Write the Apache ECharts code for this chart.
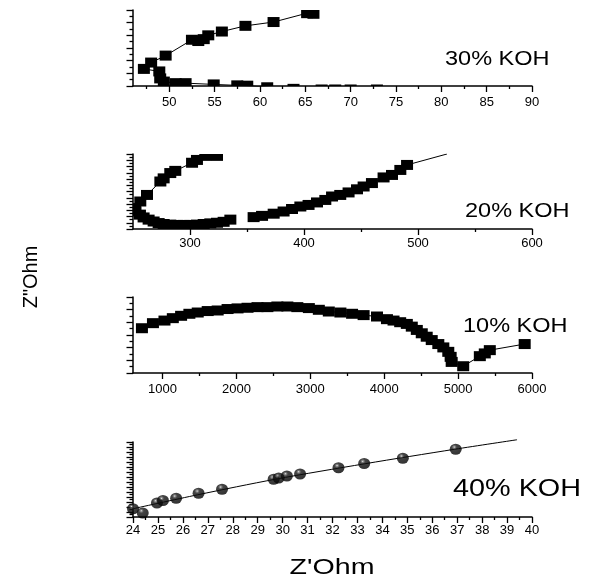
<!DOCTYPE html>
<html><head><meta charset="utf-8">
<script src="https://cdn.jsdelivr.net/npm/echarts@6/dist/echarts.min.js"></script>
<style>html,body{margin:0;padding:0;background:#fff}#c{width:597px;height:586px}</style>
</head><body><div id="c"></div>
<script>
// ---- 30% KOH ----
const koh30X = [72.9, 70.0, 68.3, 66.8, 63.7, 60.8, 58.6, 57.5, 54.9, 51.8, 50.7, 49.4, 49.0, 48.9, 47.2, 48.0, 49.6, 52.5, 53.2, 53.8, 54.3, 55.8, 58.4, 61.5, 65.2, 65.6, 65.9];
const koh30Y = [-0.55, -0.55, -0.55, -0.55, -0.45, -0.2, 0.05, 0.1, 0.25, 0.45, 0.45, 0.7, 1.2, 2.3, 2.7, 3.7, 4.8, 7.3, 7.1, 7.4, 8.0, 8.6, 9.5, 10.1, 11.5, 11.7, 11.4];
const koh30Labels = [50, 55, 60, 65, 70, 75, 80, 85, 90];
const koh30Minor = [47.5, 52.5, 57.5, 62.5, 67.5, 72.5, 77.5, 82.5, 87.5];

// ---- 20% KOH ----
const koh20ArcX = [323.7, 313.4, 306.1, 301.8, 287.1, 282.7, 276.9, 274.0, 262.3, 256.4, 252.0, 252.0, 256.1, 259.3, 263.7, 268.1, 272.5, 276.9, 282.7, 288.6, 294.4, 300.3, 306.1, 312.0, 317.8, 323.7, 329.5, 335.4];
const koh20ArcY = [23.4, 23.4, 22.1, 21.2, 18.6, 17.9, 16.2, 15.2, 10.9, 8.8, 6.7, 5.6, 4.6, 3.7, 3.0, 2.4, 1.9, 1.6, 1.4, 1.3, 1.3, 1.3, 1.4, 1.6, 1.8, 2.0, 2.3, 3.0];
const koh20RightX = [355.8, 363.2, 373.4, 382.1, 389.5, 396.8, 404.0, 411.4, 418.7, 424.6, 431.8, 439.1, 446.5, 452.3, 459.6, 469.8, 477.2, 484.5, 490.4];
const koh20RightY = [3.8, 4.2, 4.9, 5.6, 6.4, 7.2, 7.7, 8.5, 9.3, 10.4, 10.9, 11.7, 12.7, 13.6, 14.7, 16.5, 17.3, 18.9, 20.5];
const koh20FitX = [490.4, 525.4];
const koh20FitY = [20.5, 24.0];
const koh20Labels = [300, 400, 500, 600];
const koh20Minor = [350, 450, 550];

// ---- 10% KOH ----
const koh10X = [721, 870, 1026, 1139, 1251, 1363, 1476, 1611, 1746, 1880, 2015, 2150, 2285, 2419, 2554, 2689, 2824, 2980, 3115, 3250, 3407, 3565, 3721, 3902, 4037, 4126, 4216, 4306, 4373, 4441, 4508, 4575, 4643, 4732, 4800, 4867, 4899, 4913, 5069, 5294, 5361, 5429, 5901];
const koh10Y = [7.07, 7.87, 8.28, 8.66, 9.03, 9.35, 9.55, 9.78, 9.87, 10.1, 10.2, 10.3, 10.4, 10.4, 10.5, 10.5, 10.4, 10.25, 9.98, 9.71, 9.55, 9.35, 9.14, 8.92, 8.5, 8.28, 8.02, 7.75, 7.32, 6.8, 6.27, 5.73, 5.2, 4.57, 4.04, 3.34, 2.55, 1.75, 1.07, 2.66, 3.09, 3.61, 4.57];
const koh10Labels = [1000, 2000, 3000, 4000, 5000, 6000];
const koh10Minor = [1500, 2500, 3500, 4500, 5500];

// ---- 40% KOH ----
const koh40X = [24.0, 24.39, 24.96, 25.2, 25.73, 26.63, 27.57, 29.64, 29.84, 30.17, 30.7, 32.24, 33.27, 34.82, 36.94];
const koh40Y = [3.3, 1.6, 5.6, 6.6, 7.5, 9.5, 11.1, 15.1, 15.6, 16.4, 17.2, 19.7, 21.4, 23.5, 27.1];
const koh40FitX = [24.0, 26.6, 29.7, 33.3, 36.9, 39.4];
const koh40FitY = [3.3, 8.9, 15.1, 21.3, 27.1, 30.9];

const zip = (a, b) => a.map((v, i) => [v, b[i]]);
const FONT = '"Liberation Sans", Arial, sans-serif';
const AX = {color: '#000', width: 1.5};
const TK = {color: '#000', width: 1.3};
const MW = 12, MH = 10;
const plain = v => String(v);

function squareItem(params, api) {
  const p = api.coord([api.value(0), api.value(1)]);
  const cs = params.coordSys;
  const r = echarts.graphic.clipRectByRect(
    {x: p[0] - MW / 2, y: p[1] - MH / 2, width: MW, height: MH},
    {x: cs.x, y: cs.y, width: cs.width, height: cs.height});
  return r ? {type: 'rect', shape: r, style: {fill: '#000'}} : null;
}

function mainX(grid, min, max, labels, margin) {
  return {type: 'value', gridIndex: grid, min: min, max: max, position: 'bottom',
    axisLine: {show: true, onZero: false, lineStyle: AX},
    axisTick: {show: true, customValues: labels, length: 6, lineStyle: TK},
    axisLabel: {customValues: labels, formatter: plain, color: '#000', fontSize: 13, fontFamily: FONT, margin: margin},
    splitLine: {show: false}};
}
function minorX(grid, min, max, ticks) {
  return {type: 'value', gridIndex: grid, min: min, max: max, position: 'bottom',
    axisLine: {show: false},
    axisTick: {show: true, customValues: ticks, length: 3, lineStyle: TK},
    axisLabel: {show: false}, splitLine: {show: false}};
}
function yAx(grid, max) {
  return {type: 'value', gridIndex: grid, min: 0, max: max, interval: 2,
    axisLine: {show: true, onZero: false, lineStyle: AX},
    axisTick: {show: true, length: 6.5, lineStyle: TK},
    minorTick: {show: true, splitNumber: 2, length: 3.5, lineStyle: TK},
    axisLabel: {show: false}, splitLine: {show: false}, minorSplitLine: {show: false}};
}
function lineS(xi, yi, data, extra) {
  return Object.assign({type: 'line', xAxisIndex: xi, yAxisIndex: yi, data: data, symbol: 'none',
    lineStyle: {color: '#000', width: 1}, z: 2, animation: false}, extra || {});
}
function markS(xi, yi, data) {
  return {type: 'custom', xAxisIndex: xi, yAxisIndex: yi, data: data, renderItem: squareItem,
    encode: {x: 0, y: 1}, z: 3, animation: false};
}
function label(text, x, y, size, sx) {
  return {type: 'text', x: x, y: y, scaleX: sx, style: {text: text, font: size + 'px ' + FONT, fill: '#000',
    textAlign: 'left', textVerticalAlign: 'middle', align: 'left', verticalAlign: 'middle'}};
}

const chart = echarts.init(document.getElementById('c'), null, {renderer: 'canvas'});
chart.setOption({
  backgroundColor: '#fff',
  animation: false,
  grid: [
    {left: 133, top: 10, width: 399, height: 76},
    {left: 133, top: 154, width: 399, height: 75},
    {left: 133, top: 297, width: 399, height: 76},
    {left: 133, top: 442, width: 399, height: 75}
  ],
  xAxis: [
    mainX(0, 46, 90, koh30Labels, 10), minorX(0, 46, 90, koh30Minor),
    mainX(1, 250, 600, koh20Labels, 8), minorX(1, 250, 600, koh20Minor),
    mainX(2, 600, 6000, koh10Labels, 10), minorX(2, 600, 6000, koh10Minor),
    {type: 'value', gridIndex: 3, min: 24, max: 40, interval: 1, position: 'bottom',
      axisLine: {show: true, onZero: false, lineStyle: AX},
      axisTick: {show: true, length: 6, lineStyle: TK},
      minorTick: {show: true, splitNumber: 2, length: 3, lineStyle: TK},
      axisLabel: {formatter: plain, color: '#000', fontSize: 13, fontFamily: FONT, margin: 7},
      splitLine: {show: false}, minorSplitLine: {show: false}}
  ],
  yAxis: [yAx(0, 12), yAx(1, 24), yAx(2, 12), yAx(3, 30)],
  series: [
    lineS(0, 0, zip(koh30X, koh30Y)),
    markS(0, 0, zip(koh30X, koh30Y)),
    lineS(2, 1, zip(koh20ArcX, koh20ArcY)),
    markS(2, 1, zip(koh20ArcX, koh20ArcY)),
    lineS(2, 1, zip(koh20RightX, koh20RightY)),
    lineS(2, 1, zip(koh20FitX, koh20FitY)),
    markS(2, 1, zip(koh20RightX, koh20RightY)),
    lineS(4, 2, zip(koh10X, koh10Y)),
    markS(4, 2, zip(koh10X, koh10Y)),
    lineS(6, 3, zip(koh40FitX, koh40FitY), {smooth: 0.3, clip: false}),
    {type: 'scatter', xAxisIndex: 6, yAxisIndex: 3, data: zip(koh40X, koh40Y), symbol: 'circle',
      symbolSize: [12, 11], z: 3, animation: false,
      itemStyle: {color: {type: 'radial', x: 0.38, y: 0.3, r: 0.7,
        colorStops: [{offset: 0, color: '#f4f4f4'}, {offset: 0.1, color: '#777777'},
                     {offset: 0.3, color: '#151515'}, {offset: 1, color: '#000000'}]}}}
  ],
  graphic: [
    label('30% KOH', 445, 59, 21, 1.12),
    label('20% KOH', 465, 211, 21, 1.12),
    label('10% KOH', 463, 326, 21, 1.12),
    label('40% KOH', 453, 489, 24, 1.2),
    {type: 'text', x: 31, y: 277, rotation: Math.PI / 2, style: {text: 'Z"Ohm', font: '20px ' + FONT, fill: '#000',
      textAlign: 'center', textVerticalAlign: 'middle', align: 'center', verticalAlign: 'middle'}},
    {type: 'text', x: 332, y: 568, scaleX: 1.3, style: {text: "Z'Ohm", font: '22px ' + FONT, fill: '#000',
      textAlign: 'center', textVerticalAlign: 'middle', align: 'center', verticalAlign: 'middle'}}
  ]
});
</script>
</body></html>
